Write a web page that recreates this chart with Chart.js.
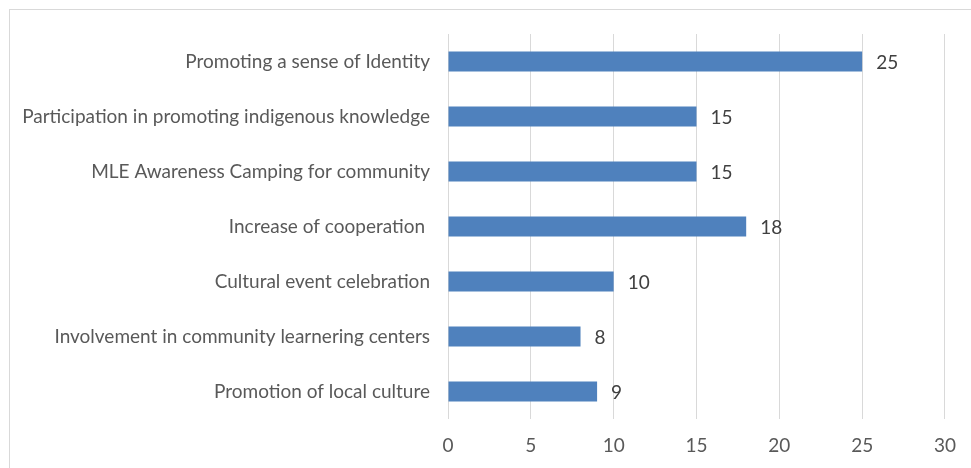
<!DOCTYPE html>
<html>
<head>
<meta charset="utf-8">
<script src="https://cdn.jsdelivr.net/npm/chart.js@4/dist/chart.umd.min.js"></script>
<style>
  html, body { margin: 0; padding: 0; background: #fff; }
  #frame { position: absolute; left: 9px; top: 9px; width: 1000px; height: 500px; border: 1px solid #d9d9d9; }
  #wrap { position: absolute; left: 0; top: 0; width: 971px; height: 468px; }
</style>
</head>
<body>
<div id="frame"></div>
<div id="wrap"><canvas id="barChart"></canvas></div>
<script>
// Datos (de arriba hacia abajo)
const categorias = [
    'Promoting a sense of Identity',
    'Participation in promoting indigenous knowledge',
    'MLE Awareness Camping for community',
    'Increase of cooperation ',
    'Cultural event celebration',
    'Involvement in community learnering centers',
    'Promotion of local culture'
];
const valores = [25, 15, 15, 18, 10, 8, 9];
const ejeMin = 0;
const ejeMax = 30;
const ejePaso = 5;

document.addEventListener('DOMContentLoaded', function() {
    const fuente = { family: 'Lato, Carlito, Calibri, sans-serif', size: 19 };

    // Etiquetas de valor al final de cada barra
    const etiquetasValor = {
        id: 'etiquetasValor',
        afterDatasetsDraw(chart) {
            const ctx = chart.ctx;
            const meta = chart.getDatasetMeta(0);
            ctx.save();
            ctx.font = `${fuente.size}px ${fuente.family}`;
            ctx.fillStyle = '#404040';
            ctx.textAlign = 'left';
            ctx.textBaseline = 'middle';
            meta.data.forEach((barra, i) => {
                ctx.fillText(String(valores[i]), barra.x + 14, barra.y + 1);
            });
            ctx.restore();
        }
    };

    const ctx = document.getElementById('barChart').getContext('2d');
    const chart = new Chart(ctx, {
        type: 'bar',
        data: {
            labels: categorias,
            datasets: [{
                data: valores,
                backgroundColor: '#4f81bd',
                borderWidth: 0,
                barPercentage: 0.36,
                categoryPercentage: 1
            }]
        },
        options: {
            indexAxis: 'y',
            responsive: true,
            maintainAspectRatio: false,
            animation: false,
            layout: { padding: { top: 34, right: 20, bottom: 0, left: 0 } },
            plugins: {
                legend: { display: false },
                tooltip: { enabled: false }
            },
            scales: {
                x: {
                    min: ejeMin,
                    max: ejeMax,
                    ticks: { stepSize: ejePaso, color: '#595959', font: fuente, padding: 15 },
                    grid: { color: '#d9d9d9', lineWidth: 1, drawTicks: false },
                    border: { display: false },
                    afterFit(scale) { scale.height = 49; }
                },
                y: {
                    ticks: { color: '#595959', font: fuente, padding: 18 },
                    grid: { display: false, drawTicks: false },
                    border: { display: false },
                    afterFit(scale) { scale.width = 448; }
                }
            }
        },
        plugins: [etiquetasValor]
    });
});
</script>
</body>
</html>
